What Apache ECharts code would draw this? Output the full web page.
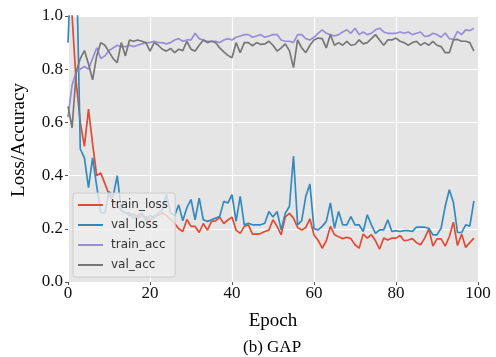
<!DOCTYPE html>
<html>
<head>
<meta charset="utf-8">
<script src="https://cdn.jsdelivr.net/npm/echarts@6/dist/echarts.min.js"></script>
<style>
html,body{margin:0;padding:0;background:#fff;}
#c{width:496px;height:357px;}
</style>
</head>
<body>
<div id="c"></div>
<script>
// ---- data (epochs 0..99) ----
var seriesNames = ['train_loss', 'val_loss', 'train_acc', 'val_acc'];
var xTicks = [0, 20, 40, 60, 80, 100];
var yTicks = [0.0, 0.2, 0.4, 0.6, 0.8, 1.0];

var trainLoss = [
  1.6, 1.0, 0.75, 0.60, 0.51, 0.65, 0.52, 0.40, 0.41, 0.37,
  0.33, 0.30, 0.29, 0.27, 0.26, 0.25, 0.255, 0.24, 0.25, 0.245,
  0.23, 0.25, 0.25, 0.26, 0.25, 0.235, 0.22, 0.20, 0.19, 0.235,
  0.209, 0.209, 0.186, 0.22, 0.195, 0.228, 0.23, 0.244, 0.22, 0.233,
  0.244, 0.195, 0.183, 0.209, 0.215, 0.18, 0.18, 0.182, 0.19, 0.195,
  0.234, 0.209, 0.177, 0.245, 0.258, 0.24, 0.205, 0.195, 0.205, 0.237,
  0.177, 0.157, 0.127, 0.155, 0.209, 0.178, 0.17, 0.163, 0.168, 0.163,
  0.14, 0.127, 0.18, 0.165, 0.178, 0.155, 0.124, 0.165, 0.158, 0.165,
  0.165, 0.175, 0.155, 0.158, 0.163, 0.148, 0.14, 0.165, 0.20, 0.135,
  0.162, 0.162, 0.135, 0.17, 0.225, 0.137, 0.18, 0.13, 0.148, 0.165
];
var valLoss = [
  0.90, 1.3, 1.25, 0.50, 0.467, 0.355, 0.467, 0.36, 0.26, 0.26,
  0.34, 0.32, 0.40, 0.27, 0.26, 0.26, 0.24, 0.25, 0.26, 0.23,
  0.25, 0.24, 0.26, 0.27, 0.33, 0.26, 0.25, 0.29, 0.23, 0.28,
  0.31, 0.234, 0.315, 0.234, 0.228, 0.234, 0.24, 0.246, 0.303, 0.297,
  0.328, 0.228, 0.322, 0.215, 0.221, 0.215, 0.215, 0.215, 0.221, 0.265,
  0.244, 0.265, 0.196, 0.259, 0.284, 0.473, 0.215, 0.231, 0.322, 0.368,
  0.20, 0.196, 0.209, 0.228, 0.297, 0.202, 0.265, 0.215, 0.215, 0.246,
  0.215, 0.215, 0.19, 0.253, 0.215, 0.183, 0.196, 0.196, 0.234, 0.19,
  0.193, 0.19, 0.193, 0.193, 0.19, 0.206, 0.206, 0.206, 0.202, 0.177,
  0.177, 0.202, 0.284, 0.347, 0.30, 0.186, 0.186, 0.215, 0.21, 0.305
];
var trainAcc = [
  0.62, 0.74, 0.79, 0.80, 0.81, 0.80, 0.84, 0.88, 0.84, 0.85,
  0.87, 0.88, 0.89, 0.885, 0.885, 0.89, 0.885, 0.89, 0.895, 0.90,
  0.90, 0.905, 0.90, 0.90, 0.895, 0.90, 0.91, 0.915, 0.905, 0.91,
  0.91, 0.935, 0.915, 0.91, 0.905, 0.905, 0.905, 0.90, 0.91, 0.915,
  0.91, 0.92, 0.925, 0.93, 0.93, 0.92, 0.925, 0.93, 0.92, 0.925,
  0.93, 0.93, 0.91, 0.905, 0.905, 0.90, 0.93, 0.93, 0.915, 0.91,
  0.92, 0.935, 0.948, 0.935, 0.93, 0.925, 0.93, 0.94, 0.948, 0.935,
  0.954, 0.93, 0.94, 0.93, 0.935, 0.948, 0.954, 0.94, 0.935, 0.935,
  0.935, 0.94, 0.935, 0.94, 0.93, 0.935, 0.94, 0.923, 0.925, 0.935,
  0.93, 0.92, 0.936, 0.915, 0.912, 0.942, 0.93, 0.948, 0.945, 0.954
];
var valAcc = [
  0.66, 0.58, 0.79, 0.84, 0.87, 0.82, 0.76, 0.85, 0.90, 0.89,
  0.865, 0.84, 0.825, 0.90, 0.85, 0.91, 0.905, 0.91, 0.905, 0.90,
  0.868, 0.90, 0.89, 0.875, 0.868, 0.878, 0.862, 0.875, 0.87, 0.905,
  0.875, 0.868, 0.89, 0.91, 0.90, 0.905, 0.90, 0.88, 0.865, 0.852,
  0.843, 0.90, 0.862, 0.90, 0.90, 0.888, 0.90, 0.893, 0.895, 0.905,
  0.89, 0.868, 0.88, 0.895, 0.87, 0.806, 0.91, 0.88, 0.862, 0.89,
  0.91, 0.917, 0.915, 0.88, 0.93, 0.89, 0.90, 0.89, 0.905, 0.89,
  0.893, 0.91, 0.895, 0.90, 0.915, 0.93, 0.91, 0.89, 0.91, 0.91,
  0.917, 0.905, 0.90, 0.89, 0.90, 0.905, 0.89, 0.90, 0.89, 0.905,
  0.89, 0.885, 0.862, 0.862, 0.91, 0.912, 0.905, 0.905, 0.90, 0.868
];
var colors = ['#E24A33', '#348ABD', '#988ED5', '#777777'];

function pairs(arr) {
  return arr.map(function (v, i) { return [i, v]; });
}
var allData = [trainLoss, valLoss, trainAcc, valAcc];

var chart = echarts.init(document.getElementById('c'), null, {renderer: 'canvas'});
var serif = '"Liberation Serif", "DejaVu Serif", serif';
var option = {
  animation: false,
  backgroundColor: '#ffffff',
  grid: {
    left: 68, right: 18, top: 16, bottom: 75,
    show: true, backgroundColor: '#E5E5E5', borderWidth: 0
  },
  xAxis: {
    type: 'value', min: xTicks[0], max: xTicks[xTicks.length - 1], interval: 20,
    name: 'Epoch', nameLocation: 'middle', nameGap: 30,
    nameTextStyle: {fontFamily: serif, fontSize: 19, color: '#000'},
    axisLine: {show: false},
    axisTick: {show: true, length: 3, lineStyle: {color: '#555'}},
    axisLabel: {fontFamily: serif, fontSize: 17, color: '#111', margin: 3},
    splitLine: {show: true, lineStyle: {color: '#ffffff', width: 1.2}}
  },
  yAxis: {
    type: 'value', min: yTicks[0], max: yTicks[yTicks.length - 1], interval: 0.2,
    name: 'Loss/Accuracy', nameLocation: 'middle', nameGap: 39,
    nameTextStyle: {fontFamily: serif, fontSize: 19, color: '#000', padding: [0, 0, 0, 18]},
    axisLine: {show: false},
    axisTick: {show: true, length: 3, lineStyle: {color: '#555'}},
    axisLabel: {fontFamily: serif, fontSize: 17, color: '#111', margin: 5,
      formatter: function (v) { return v.toFixed(1); }},
    splitLine: {show: true, lineStyle: {color: '#ffffff', width: 1.2}}
  },
  legend: {
    data: seriesNames,
    orient: 'vertical',
    left: 73, top: 193,
    padding: [5, 7, 5, 5],
    itemGap: 6,
    itemWidth: 25, itemHeight: 2,
    icon: 'rect',
    backgroundColor: 'rgba(238,238,238,0.8)',
    borderColor: '#cccccc', borderWidth: 1, borderRadius: 3,
    textStyle: {fontFamily: '"DejaVu Sans", sans-serif', fontSize: 12, color: '#333', lineHeight: 14, padding: [0, 0, 0, 3]}
  },
  graphic: [{
    type: 'text', left: 243, top: 339,
    style: {text: '(b) GAP', font: '17px "Liberation Serif", serif', fill: '#000'}
  }],
  series: allData.map(function (arr, k) {
    return {
      name: seriesNames[k], type: 'line', data: pairs(arr),
      showSymbol: false, symbol: 'none', clip: true,
      lineStyle: {color: colors[k], width: 1.7},
      itemStyle: {color: colors[k]}
    };
  })
};
chart.setOption(option);
</script>
</body>
</html>
